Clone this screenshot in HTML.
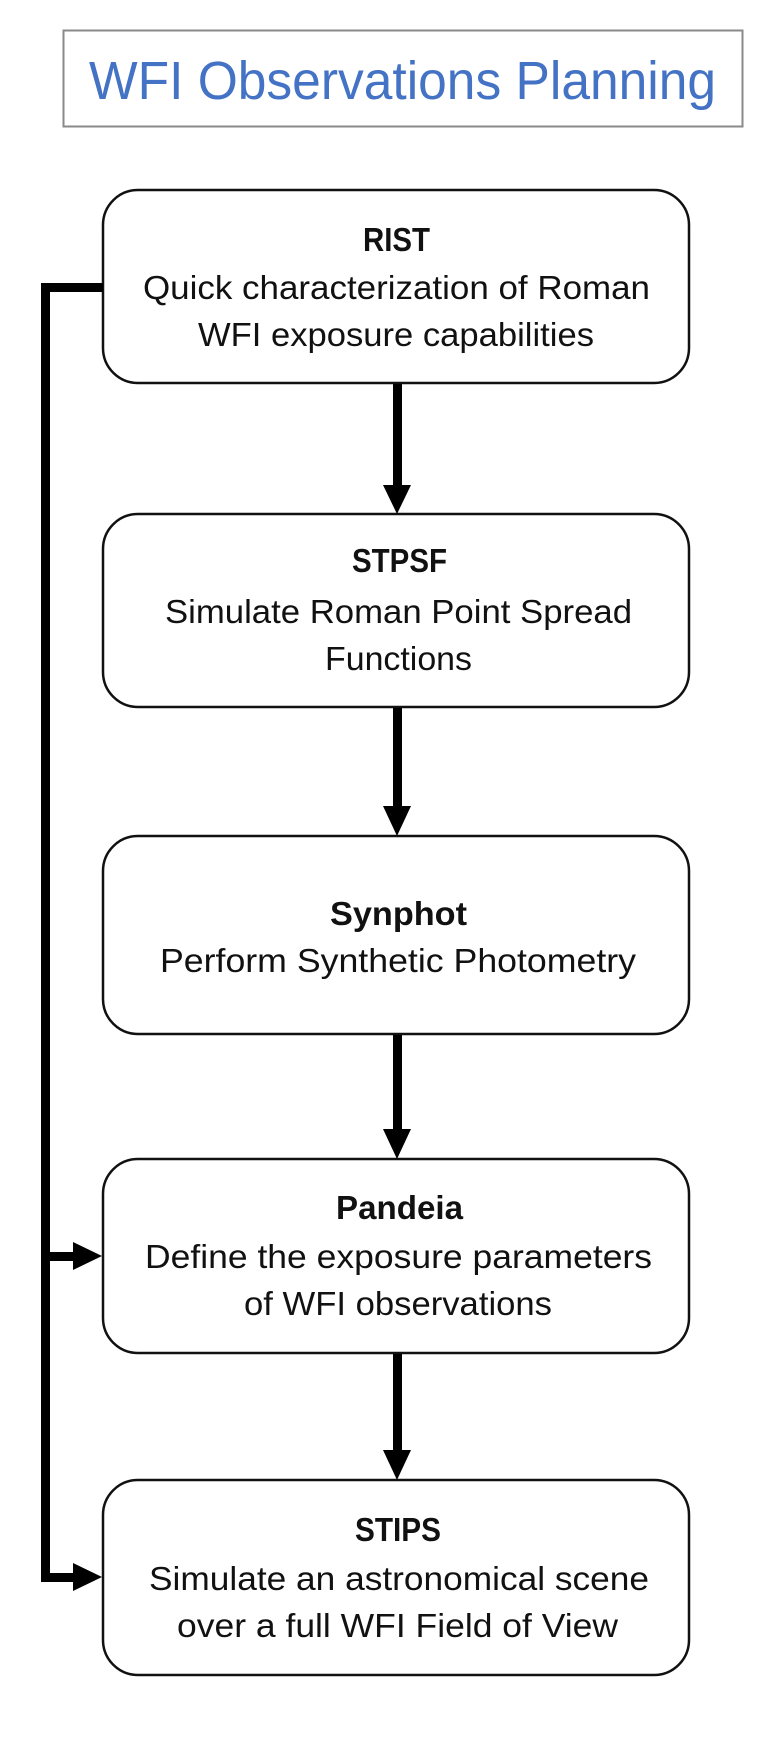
<!DOCTYPE html>
<html><head><meta charset="utf-8"><style>
html,body{margin:0;padding:0;background:#fff;}
svg{display:block;}
text{font-family:"Liberation Sans",sans-serif;fill:#111;}
.b{font-weight:bold;font-size:33px;}
.n{font-size:33px;}
</style></head><body>
<svg width="774" height="1738" viewBox="0 0 774 1738" xmlns="http://www.w3.org/2000/svg">
<rect x="63.5" y="30.5" width="679" height="96" fill="#fff" stroke="#8a8a8a" stroke-width="2"/>
<text x="89" y="99" font-size="54" style="fill:#4472C4" textLength="627" lengthAdjust="spacingAndGlyphs">WFI Observations Planning</text>

<g fill="#fff" stroke="#111" stroke-width="2.5">
<rect x="103" y="190" width="586" height="193" rx="35"/>
<rect x="103" y="514" width="586" height="193" rx="35"/>
<rect x="103" y="836" width="586" height="198" rx="35"/>
<rect x="103" y="1159" width="586" height="194" rx="35"/>
<rect x="103" y="1480" width="586" height="195" rx="35"/>
</g>

<g fill="#000">
<rect x="393" y="384" width="9" height="102"/><polygon points="383,485 411,485 397,514"/>
<rect x="393" y="708" width="9" height="100"/><polygon points="383,806 411,806 397,836"/>
<rect x="393" y="1035" width="9" height="96"/><polygon points="383,1129 411,1129 397,1159"/>
<rect x="393" y="1354" width="9" height="98"/><polygon points="383,1450 411,1450 397,1480"/>
<rect x="41" y="283" width="62" height="9"/>
<rect x="41" y="283" width="9" height="1299"/>
<rect x="41" y="1252" width="34" height="9"/><polygon points="73,1242 73,1270 102,1256"/>
<rect x="41" y="1573" width="34" height="9"/><polygon points="73,1563 73,1591 102,1577"/>
</g>

<text class="b" x="363" y="251" textLength="67" lengthAdjust="spacingAndGlyphs">RIST</text>
<text class="n" x="143" y="299" textLength="507" lengthAdjust="spacingAndGlyphs">Quick characterization of Roman</text>
<text class="n" x="198" y="346" textLength="396" lengthAdjust="spacingAndGlyphs">WFI exposure capabilities</text>

<text class="b" x="352" y="572" textLength="95" lengthAdjust="spacingAndGlyphs">STPSF</text>
<text class="n" x="165" y="623" textLength="467" lengthAdjust="spacingAndGlyphs">Simulate Roman Point Spread</text>
<text class="n" x="325" y="670" textLength="147" lengthAdjust="spacingAndGlyphs">Functions</text>

<text class="b" x="330" y="925" textLength="137" lengthAdjust="spacingAndGlyphs">Synphot</text>
<text class="n" x="160" y="972" textLength="476" lengthAdjust="spacingAndGlyphs">Perform Synthetic Photometry</text>

<text class="b" x="336" y="1219" textLength="127" lengthAdjust="spacingAndGlyphs">Pandeia</text>
<text class="n" x="145" y="1268" textLength="507" lengthAdjust="spacingAndGlyphs">Define the exposure parameters</text>
<text class="n" x="244" y="1315" textLength="308" lengthAdjust="spacingAndGlyphs">of WFI observations</text>

<text class="b" x="355" y="1541" textLength="86" lengthAdjust="spacingAndGlyphs">STIPS</text>
<text class="n" x="149" y="1590" textLength="500" lengthAdjust="spacingAndGlyphs">Simulate an astronomical scene</text>
<text class="n" x="177" y="1637" textLength="441" lengthAdjust="spacingAndGlyphs">over a full WFI Field of View</text>
</svg>
</body></html>
